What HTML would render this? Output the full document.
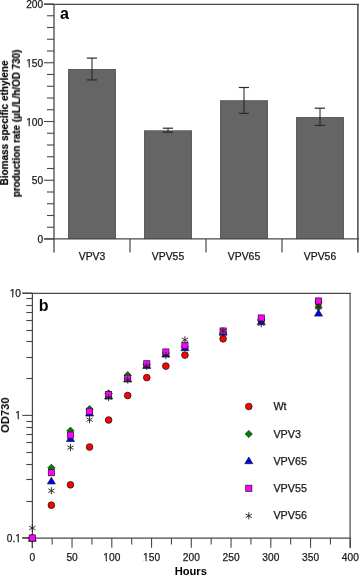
<!DOCTYPE html>
<html><head><meta charset="utf-8"><style>
html,body{margin:0;padding:0;background:#fff;overflow:hidden;}
svg{display:block;}
text{will-change:transform;font-family:"Liberation Sans",sans-serif;}
.tk{font-size:10.2px;fill:#1a1a1a;stroke:#1a1a1a;stroke-width:0.25px;}
.c{font-size:10.4px;fill:#1a1a1a;stroke:#1a1a1a;stroke-width:0.25px;}
.lg{font-size:10.75px;fill:#1a1a1a;stroke:#1a1a1a;stroke-width:0.25px;}
.yl{font-size:10px;font-weight:bold;fill:#000;stroke:#000;stroke-width:0.18px;}
.ax{font-size:11.2px;font-weight:bold;fill:#000;}
.lab{font-size:16px;font-weight:bold;fill:#000;}
</style></head><body>
<svg width="359" height="576" viewBox="0 0 359 576">
<rect width="359" height="576" fill="#fff"/>
<rect x="68" y="69.0" width="48" height="170.0" fill="#656565"/>
<rect x="68.5" y="69.5" width="47" height="169.0" fill="none" stroke="#5c5c5c" stroke-width="1"/>
<rect x="144" y="130.5" width="48" height="108.5" fill="#656565"/>
<rect x="144.5" y="131.0" width="47" height="107.5" fill="none" stroke="#5c5c5c" stroke-width="1"/>
<rect x="220" y="100.4" width="48" height="138.6" fill="#656565"/>
<rect x="220.5" y="100.9" width="47" height="137.6" fill="none" stroke="#5c5c5c" stroke-width="1"/>
<rect x="296" y="117.1" width="48" height="121.9" fill="#656565"/>
<rect x="296.5" y="117.6" width="47" height="120.9" fill="none" stroke="#5c5c5c" stroke-width="1"/>
<line x1="92.00" y1="58.10" x2="92.00" y2="79.90" stroke="#1e1e1e" stroke-width="1.0"/>
<line x1="86.80" y1="58.10" x2="97.00" y2="58.10" stroke="#2a2a2a" stroke-width="1.2"/>
<line x1="86.80" y1="79.90" x2="97.00" y2="79.90" stroke="#2a2a2a" stroke-width="1.2"/>
<line x1="168.00" y1="128.20" x2="168.00" y2="132.30" stroke="#1e1e1e" stroke-width="1.0"/>
<line x1="162.80" y1="128.20" x2="173.00" y2="128.20" stroke="#2a2a2a" stroke-width="1.2"/>
<line x1="162.80" y1="132.30" x2="173.00" y2="132.30" stroke="#2a2a2a" stroke-width="1.2"/>
<line x1="244.00" y1="87.50" x2="244.00" y2="113.40" stroke="#1e1e1e" stroke-width="1.0"/>
<line x1="238.80" y1="87.50" x2="249.00" y2="87.50" stroke="#2a2a2a" stroke-width="1.2"/>
<line x1="238.80" y1="113.40" x2="249.00" y2="113.40" stroke="#2a2a2a" stroke-width="1.2"/>
<line x1="320.00" y1="108.20" x2="320.00" y2="125.40" stroke="#1e1e1e" stroke-width="1.0"/>
<line x1="314.80" y1="108.20" x2="325.00" y2="108.20" stroke="#2a2a2a" stroke-width="1.2"/>
<line x1="314.80" y1="125.40" x2="325.00" y2="125.40" stroke="#2a2a2a" stroke-width="1.2"/>
<line x1="44.00" y1="4.40" x2="359.00" y2="4.40" stroke="#474747" stroke-width="1.1"/>
<line x1="357.90" y1="4.00" x2="357.90" y2="252.60" stroke="#474747" stroke-width="1.5"/>
<line x1="54.00" y1="4.00" x2="54.00" y2="252.60" stroke="#474747" stroke-width="1.3"/>
<line x1="44.00" y1="238.90" x2="359.00" y2="238.90" stroke="#474747" stroke-width="1.2"/>
<line x1="44.00" y1="239.00" x2="54.00" y2="239.00" stroke="#474747" stroke-width="1.1"/>
<text x="43.20" y="243.00" class="tk" text-anchor="end">0</text>
<line x1="47.00" y1="227.25" x2="54.00" y2="227.25" stroke="#474747" stroke-width="1.1"/>
<line x1="47.00" y1="215.50" x2="54.00" y2="215.50" stroke="#474747" stroke-width="1.1"/>
<line x1="47.00" y1="203.75" x2="54.00" y2="203.75" stroke="#474747" stroke-width="1.1"/>
<line x1="47.00" y1="192.00" x2="54.00" y2="192.00" stroke="#474747" stroke-width="1.1"/>
<line x1="44.00" y1="180.25" x2="54.00" y2="180.25" stroke="#474747" stroke-width="1.1"/>
<text x="43.20" y="184.25" class="tk" text-anchor="end">50</text>
<line x1="47.00" y1="168.50" x2="54.00" y2="168.50" stroke="#474747" stroke-width="1.1"/>
<line x1="47.00" y1="156.75" x2="54.00" y2="156.75" stroke="#474747" stroke-width="1.1"/>
<line x1="47.00" y1="145.00" x2="54.00" y2="145.00" stroke="#474747" stroke-width="1.1"/>
<line x1="47.00" y1="133.25" x2="54.00" y2="133.25" stroke="#474747" stroke-width="1.1"/>
<line x1="44.00" y1="121.50" x2="54.00" y2="121.50" stroke="#474747" stroke-width="1.1"/>
<text x="43.20" y="125.50" class="tk" text-anchor="end">100</text>
<line x1="47.00" y1="109.75" x2="54.00" y2="109.75" stroke="#474747" stroke-width="1.1"/>
<line x1="47.00" y1="98.00" x2="54.00" y2="98.00" stroke="#474747" stroke-width="1.1"/>
<line x1="47.00" y1="86.25" x2="54.00" y2="86.25" stroke="#474747" stroke-width="1.1"/>
<line x1="47.00" y1="74.50" x2="54.00" y2="74.50" stroke="#474747" stroke-width="1.1"/>
<line x1="44.00" y1="62.75" x2="54.00" y2="62.75" stroke="#474747" stroke-width="1.1"/>
<text x="43.20" y="66.75" class="tk" text-anchor="end">150</text>
<line x1="47.00" y1="51.00" x2="54.00" y2="51.00" stroke="#474747" stroke-width="1.1"/>
<line x1="47.00" y1="39.25" x2="54.00" y2="39.25" stroke="#474747" stroke-width="1.1"/>
<line x1="47.00" y1="27.50" x2="54.00" y2="27.50" stroke="#474747" stroke-width="1.1"/>
<line x1="47.00" y1="15.75" x2="54.00" y2="15.75" stroke="#474747" stroke-width="1.1"/>
<line x1="44.00" y1="4.00" x2="54.00" y2="4.00" stroke="#474747" stroke-width="1.1"/>
<text x="43.20" y="8.00" class="tk" text-anchor="end">200</text>
<line x1="130.00" y1="239.00" x2="130.00" y2="252.60" stroke="#474747" stroke-width="1.2"/>
<line x1="206.00" y1="239.00" x2="206.00" y2="252.60" stroke="#474747" stroke-width="1.2"/>
<line x1="282.00" y1="239.00" x2="282.00" y2="252.60" stroke="#474747" stroke-width="1.2"/>
<text x="92.00" y="260.20" class="c" text-anchor="middle">VPV3</text>
<text x="168.00" y="260.20" class="c" text-anchor="middle">VPV55</text>
<text x="244.00" y="260.20" class="c" text-anchor="middle">VPV65</text>
<text x="320.00" y="260.20" class="c" text-anchor="middle">VPV56</text>
<text x="60.00" y="18.60" class="lab">a</text>
<text transform="translate(8.1,122.9) rotate(-90)" class="yl" text-anchor="middle">Biomass specific ethylene</text>
<text transform="translate(19.9,123.45) rotate(-90)" class="yl" text-anchor="middle" textLength="147.6" lengthAdjust="spacingAndGlyphs">production rate (µL/L/h/OD 730)</text>
<line x1="22.30" y1="293.40" x2="350.70" y2="293.40" stroke="#474747" stroke-width="1.1"/>
<line x1="350.10" y1="293.00" x2="350.10" y2="548.00" stroke="#474747" stroke-width="1.2"/>
<line x1="32.40" y1="293.00" x2="32.40" y2="548.20" stroke="#474747" stroke-width="1.2"/>
<line x1="22.30" y1="538.10" x2="350.70" y2="538.10" stroke="#474747" stroke-width="1.1"/>
<line x1="26.30" y1="501.50" x2="32.40" y2="501.50" stroke="#474747" stroke-width="1.1"/>
<line x1="26.30" y1="479.50" x2="32.40" y2="479.50" stroke="#474747" stroke-width="1.1"/>
<line x1="26.30" y1="464.50" x2="32.40" y2="464.50" stroke="#474747" stroke-width="1.1"/>
<line x1="26.30" y1="452.50" x2="32.40" y2="452.50" stroke="#474747" stroke-width="1.1"/>
<line x1="26.30" y1="442.50" x2="32.40" y2="442.50" stroke="#474747" stroke-width="1.1"/>
<line x1="26.30" y1="434.50" x2="32.40" y2="434.50" stroke="#474747" stroke-width="1.1"/>
<line x1="26.30" y1="427.50" x2="32.40" y2="427.50" stroke="#474747" stroke-width="1.1"/>
<line x1="26.30" y1="421.50" x2="32.40" y2="421.50" stroke="#474747" stroke-width="1.1"/>
<line x1="26.30" y1="378.50" x2="32.40" y2="378.50" stroke="#474747" stroke-width="1.1"/>
<line x1="26.30" y1="357.50" x2="32.40" y2="357.50" stroke="#474747" stroke-width="1.1"/>
<line x1="26.30" y1="341.50" x2="32.40" y2="341.50" stroke="#474747" stroke-width="1.1"/>
<line x1="26.30" y1="330.50" x2="32.40" y2="330.50" stroke="#474747" stroke-width="1.1"/>
<line x1="26.30" y1="320.50" x2="32.40" y2="320.50" stroke="#474747" stroke-width="1.1"/>
<line x1="26.30" y1="312.50" x2="32.40" y2="312.50" stroke="#474747" stroke-width="1.1"/>
<line x1="26.30" y1="305.50" x2="32.40" y2="305.50" stroke="#474747" stroke-width="1.1"/>
<line x1="26.30" y1="298.50" x2="32.40" y2="298.50" stroke="#474747" stroke-width="1.1"/>
<line x1="22.30" y1="293.10" x2="32.40" y2="293.10" stroke="#474747" stroke-width="1.1"/>
<text x="21.00" y="297.00" class="tk" text-anchor="end">10</text>
<line x1="22.30" y1="415.40" x2="32.40" y2="415.40" stroke="#474747" stroke-width="1.1"/>
<text x="21.00" y="419.30" class="tk" text-anchor="end">1</text>
<line x1="22.30" y1="537.70" x2="32.40" y2="537.70" stroke="#474747" stroke-width="1.1"/>
<text x="21.00" y="542.30" class="tk" text-anchor="end">0.1</text>
<line x1="32.30" y1="538.10" x2="32.30" y2="547.80" stroke="#474747" stroke-width="1.1"/>
<text x="32.30" y="560.70" class="tk" text-anchor="middle">0</text>
<line x1="52.17" y1="538.10" x2="52.17" y2="544.60" stroke="#474747" stroke-width="1.1"/>
<line x1="72.05" y1="538.10" x2="72.05" y2="547.80" stroke="#474747" stroke-width="1.1"/>
<text x="72.05" y="560.70" class="tk" text-anchor="middle">50</text>
<line x1="91.92" y1="538.10" x2="91.92" y2="544.60" stroke="#474747" stroke-width="1.1"/>
<line x1="111.80" y1="538.10" x2="111.80" y2="547.80" stroke="#474747" stroke-width="1.1"/>
<text x="111.80" y="560.70" class="tk" text-anchor="middle">100</text>
<line x1="131.68" y1="538.10" x2="131.68" y2="544.60" stroke="#474747" stroke-width="1.1"/>
<line x1="151.55" y1="538.10" x2="151.55" y2="547.80" stroke="#474747" stroke-width="1.1"/>
<text x="151.55" y="560.70" class="tk" text-anchor="middle">150</text>
<line x1="171.43" y1="538.10" x2="171.43" y2="544.60" stroke="#474747" stroke-width="1.1"/>
<line x1="191.30" y1="538.10" x2="191.30" y2="547.80" stroke="#474747" stroke-width="1.1"/>
<text x="191.30" y="560.70" class="tk" text-anchor="middle">200</text>
<line x1="211.18" y1="538.10" x2="211.18" y2="544.60" stroke="#474747" stroke-width="1.1"/>
<line x1="231.05" y1="538.10" x2="231.05" y2="547.80" stroke="#474747" stroke-width="1.1"/>
<text x="231.05" y="560.70" class="tk" text-anchor="middle">250</text>
<line x1="250.93" y1="538.10" x2="250.93" y2="544.60" stroke="#474747" stroke-width="1.1"/>
<line x1="270.80" y1="538.10" x2="270.80" y2="547.80" stroke="#474747" stroke-width="1.1"/>
<text x="270.80" y="560.70" class="tk" text-anchor="middle">300</text>
<line x1="290.68" y1="538.10" x2="290.68" y2="544.60" stroke="#474747" stroke-width="1.1"/>
<line x1="310.55" y1="538.10" x2="310.55" y2="547.80" stroke="#474747" stroke-width="1.1"/>
<text x="310.55" y="560.70" class="tk" text-anchor="middle">350</text>
<line x1="330.43" y1="538.10" x2="330.43" y2="544.60" stroke="#474747" stroke-width="1.1"/>
<line x1="350.30" y1="538.10" x2="350.30" y2="547.80" stroke="#474747" stroke-width="1.1"/>
<text x="350.30" y="560.70" class="tk" text-anchor="middle">400</text>
<text x="190.80" y="575.40" class="ax" text-anchor="middle">Hours</text>
<text transform="translate(9.0,415.2) rotate(-90)" class="ax" text-anchor="middle">OD730</text>
<text x="38.80" y="310.50" class="lab">b</text>
<circle cx="32.30" cy="538.00" r="3.35" fill="#ff0000" stroke="#1a1a1a" stroke-width="0.8"/>
<circle cx="51.38" cy="505.20" r="3.35" fill="#ff0000" stroke="#1a1a1a" stroke-width="0.8"/>
<circle cx="70.46" cy="484.80" r="3.35" fill="#ff0000" stroke="#1a1a1a" stroke-width="0.8"/>
<circle cx="89.54" cy="447.00" r="3.35" fill="#ff0000" stroke="#1a1a1a" stroke-width="0.8"/>
<circle cx="108.62" cy="420.00" r="3.35" fill="#ff0000" stroke="#1a1a1a" stroke-width="0.8"/>
<circle cx="127.70" cy="395.50" r="3.35" fill="#ff0000" stroke="#1a1a1a" stroke-width="0.8"/>
<circle cx="146.78" cy="377.60" r="3.35" fill="#ff0000" stroke="#1a1a1a" stroke-width="0.8"/>
<circle cx="165.86" cy="366.10" r="3.35" fill="#ff0000" stroke="#1a1a1a" stroke-width="0.8"/>
<circle cx="184.94" cy="355.10" r="3.35" fill="#ff0000" stroke="#1a1a1a" stroke-width="0.8"/>
<circle cx="223.10" cy="338.80" r="3.35" fill="#ff0000" stroke="#1a1a1a" stroke-width="0.8"/>
<circle cx="261.26" cy="320.00" r="3.35" fill="#ff0000" stroke="#1a1a1a" stroke-width="0.8"/>
<circle cx="318.50" cy="302.00" r="3.35" fill="#ff0000" stroke="#1a1a1a" stroke-width="0.8"/>
<path d="M32.30 534.40L35.90 538.00L32.30 541.60L28.70 538.00Z" fill="#008000" stroke="#1a1a1a" stroke-width="0.7"/>
<path d="M51.38 464.20L54.98 467.80L51.38 471.40L47.78 467.80Z" fill="#008000" stroke="#1a1a1a" stroke-width="0.7"/>
<path d="M70.46 427.10L74.06 430.70L70.46 434.30L66.86 430.70Z" fill="#008000" stroke="#1a1a1a" stroke-width="0.7"/>
<path d="M89.54 405.60L93.14 409.20L89.54 412.80L85.94 409.20Z" fill="#008000" stroke="#1a1a1a" stroke-width="0.7"/>
<path d="M108.62 389.80L112.22 393.40L108.62 397.00L105.02 393.40Z" fill="#008000" stroke="#1a1a1a" stroke-width="0.7"/>
<path d="M127.70 371.60L131.30 375.20L127.70 378.80L124.10 375.20Z" fill="#008000" stroke="#1a1a1a" stroke-width="0.7"/>
<path d="M146.78 360.90L150.38 364.50L146.78 368.10L143.18 364.50Z" fill="#008000" stroke="#1a1a1a" stroke-width="0.7"/>
<path d="M165.86 349.40L169.46 353.00L165.86 356.60L162.26 353.00Z" fill="#008000" stroke="#1a1a1a" stroke-width="0.7"/>
<path d="M184.94 343.40L188.54 347.00L184.94 350.60L181.34 347.00Z" fill="#008000" stroke="#1a1a1a" stroke-width="0.7"/>
<path d="M223.10 329.40L226.70 333.00L223.10 336.60L219.50 333.00Z" fill="#008000" stroke="#1a1a1a" stroke-width="0.7"/>
<path d="M261.26 316.40L264.86 320.00L261.26 323.60L257.66 320.00Z" fill="#008000" stroke="#1a1a1a" stroke-width="0.7"/>
<path d="M318.50 303.70L322.10 307.30L318.50 310.90L314.90 307.30Z" fill="#008000" stroke="#1a1a1a" stroke-width="0.7"/>
<path d="M32.30 534.50L36.30 541.20L28.30 541.20Z" fill="#0000ff" stroke="#1a1a1a" stroke-width="0.7"/>
<path d="M51.38 477.20L55.38 483.90L47.38 483.90Z" fill="#0000ff" stroke="#1a1a1a" stroke-width="0.7"/>
<path d="M70.46 434.80L74.46 441.50L66.46 441.50Z" fill="#0000ff" stroke="#1a1a1a" stroke-width="0.7"/>
<path d="M89.54 409.30L93.54 416.00L85.54 416.00Z" fill="#0000ff" stroke="#1a1a1a" stroke-width="0.7"/>
<path d="M108.62 392.30L112.62 399.00L104.62 399.00Z" fill="#0000ff" stroke="#1a1a1a" stroke-width="0.7"/>
<path d="M127.70 375.30L131.70 382.00L123.70 382.00Z" fill="#0000ff" stroke="#1a1a1a" stroke-width="0.7"/>
<path d="M146.78 361.70L150.78 368.40L142.78 368.40Z" fill="#0000ff" stroke="#1a1a1a" stroke-width="0.7"/>
<path d="M165.86 350.30L169.86 357.00L161.86 357.00Z" fill="#0000ff" stroke="#1a1a1a" stroke-width="0.7"/>
<path d="M184.94 344.00L188.94 350.70L180.94 350.70Z" fill="#0000ff" stroke="#1a1a1a" stroke-width="0.7"/>
<path d="M223.10 328.50L227.10 335.20L219.10 335.20Z" fill="#0000ff" stroke="#1a1a1a" stroke-width="0.7"/>
<path d="M261.26 317.90L265.26 324.60L257.26 324.60Z" fill="#0000ff" stroke="#1a1a1a" stroke-width="0.7"/>
<path d="M318.50 309.40L322.50 316.10L314.50 316.10Z" fill="#0000ff" stroke="#1a1a1a" stroke-width="0.7"/>
<rect x="29.20" y="534.90" width="6.2" height="6.2" fill="#ff00ff" stroke="#1a1a1a" stroke-width="0.7"/>
<rect x="48.28" y="469.60" width="6.2" height="6.2" fill="#ff00ff" stroke="#1a1a1a" stroke-width="0.7"/>
<rect x="67.36" y="432.00" width="6.2" height="6.2" fill="#ff00ff" stroke="#1a1a1a" stroke-width="0.7"/>
<rect x="86.44" y="408.20" width="6.2" height="6.2" fill="#ff00ff" stroke="#1a1a1a" stroke-width="0.7"/>
<rect x="105.52" y="391.60" width="6.2" height="6.2" fill="#ff00ff" stroke="#1a1a1a" stroke-width="0.7"/>
<rect x="124.60" y="375.20" width="6.2" height="6.2" fill="#ff00ff" stroke="#1a1a1a" stroke-width="0.7"/>
<rect x="143.68" y="360.70" width="6.2" height="6.2" fill="#ff00ff" stroke="#1a1a1a" stroke-width="0.7"/>
<rect x="162.76" y="348.90" width="6.2" height="6.2" fill="#ff00ff" stroke="#1a1a1a" stroke-width="0.7"/>
<rect x="181.84" y="342.30" width="6.2" height="6.2" fill="#ff00ff" stroke="#1a1a1a" stroke-width="0.7"/>
<rect x="220.00" y="327.90" width="6.2" height="6.2" fill="#ff00ff" stroke="#1a1a1a" stroke-width="0.7"/>
<rect x="258.16" y="314.90" width="6.2" height="6.2" fill="#ff00ff" stroke="#1a1a1a" stroke-width="0.7"/>
<rect x="315.40" y="297.90" width="6.2" height="6.2" fill="#ff00ff" stroke="#1a1a1a" stroke-width="0.7"/>
<path d="M32.30 524.40L32.30 531.60M29.18 526.20L35.42 529.80M29.18 529.80L35.42 526.20" stroke="#222" stroke-width="0.9" fill="none"/>
<path d="M51.38 487.10L51.38 494.30M48.26 488.90L54.50 492.50M48.26 492.50L54.50 488.90" stroke="#222" stroke-width="0.9" fill="none"/>
<path d="M70.46 444.00L70.46 451.20M67.34 445.80L73.58 449.40M67.34 449.40L73.58 445.80" stroke="#222" stroke-width="0.9" fill="none"/>
<path d="M89.54 416.10L89.54 423.30M86.42 417.90L92.66 421.50M86.42 421.50L92.66 417.90" stroke="#222" stroke-width="0.9" fill="none"/>
<path d="M108.62 393.90L108.62 401.10M105.50 395.70L111.74 399.30M105.50 399.30L111.74 395.70" stroke="#222" stroke-width="0.9" fill="none"/>
<path d="M127.70 376.40L127.70 383.60M124.58 378.20L130.82 381.80M124.58 381.80L130.82 378.20" stroke="#222" stroke-width="0.9" fill="none"/>
<path d="M146.78 362.90L146.78 370.10M143.66 364.70L149.90 368.30M143.66 368.30L149.90 364.70" stroke="#222" stroke-width="0.9" fill="none"/>
<path d="M165.86 351.90L165.86 359.10M162.74 353.70L168.98 357.30M162.74 357.30L168.98 353.70" stroke="#222" stroke-width="0.9" fill="none"/>
<path d="M184.94 336.20L184.94 343.40M181.82 338.00L188.06 341.60M181.82 341.60L188.06 338.00" stroke="#222" stroke-width="0.9" fill="none"/>
<path d="M223.10 327.40L223.10 334.60M219.98 329.20L226.22 332.80M219.98 332.80L226.22 329.20" stroke="#222" stroke-width="0.9" fill="none"/>
<path d="M261.26 320.20L261.26 327.40M258.14 322.00L264.38 325.60M258.14 325.60L264.38 322.00" stroke="#222" stroke-width="0.9" fill="none"/>
<path d="M318.50 303.40L318.50 310.60M315.38 305.20L321.62 308.80M315.38 308.80L321.62 305.20" stroke="#222" stroke-width="0.9" fill="none"/>
<circle cx="248.80" cy="406.50" r="3.35" fill="#ff0000" stroke="#1a1a1a" stroke-width="0.8"/>
<text x="273.40" y="410.20" class="lg">Wt</text>
<path d="M248.80 430.40L252.40 434.00L248.80 437.60L245.20 434.00Z" fill="#008000" stroke="#1a1a1a" stroke-width="0.7"/>
<text x="273.40" y="437.60" class="lg">VPV3</text>
<path d="M248.80 457.00L252.80 463.70L244.80 463.70Z" fill="#0000ff" stroke="#1a1a1a" stroke-width="0.7"/>
<text x="273.40" y="464.80" class="lg">VPV65</text>
<rect x="245.70" y="485.20" width="6.2" height="6.2" fill="#ff00ff" stroke="#1a1a1a" stroke-width="0.7"/>
<text x="273.40" y="491.70" class="lg">VPV55</text>
<path d="M248.80 512.20L248.80 519.40M245.68 514.00L251.92 517.60M245.68 517.60L251.92 514.00" stroke="#222" stroke-width="0.9" fill="none"/>
<text x="273.40" y="518.90" class="lg">VPV56</text>
<rect x="26.49" y="124.03" width="2.09" height="3.07" fill="#fff"/>
<rect x="29.84" y="124.03" width="2.04" height="3.07" fill="#fff"/>
<rect x="26.49" y="65.28" width="2.09" height="3.07" fill="#fff"/>
<rect x="29.84" y="65.28" width="2.04" height="3.07" fill="#fff"/>
<rect x="9.96" y="295.53" width="2.09" height="3.07" fill="#fff"/>
<rect x="13.31" y="295.53" width="2.04" height="3.07" fill="#fff"/>
<rect x="15.63" y="417.83" width="2.09" height="3.07" fill="#fff"/>
<rect x="18.98" y="417.83" width="2.04" height="3.07" fill="#fff"/>
<rect x="15.63" y="540.83" width="2.09" height="3.07" fill="#fff"/>
<rect x="18.98" y="540.83" width="2.04" height="3.07" fill="#fff"/>
<rect x="103.60" y="559.23" width="2.09" height="3.07" fill="#fff"/>
<rect x="106.94" y="559.23" width="2.04" height="3.07" fill="#fff"/>
<rect x="143.35" y="559.23" width="2.09" height="3.07" fill="#fff"/>
<rect x="146.69" y="559.23" width="2.04" height="3.07" fill="#fff"/>
</svg>
</body></html>
